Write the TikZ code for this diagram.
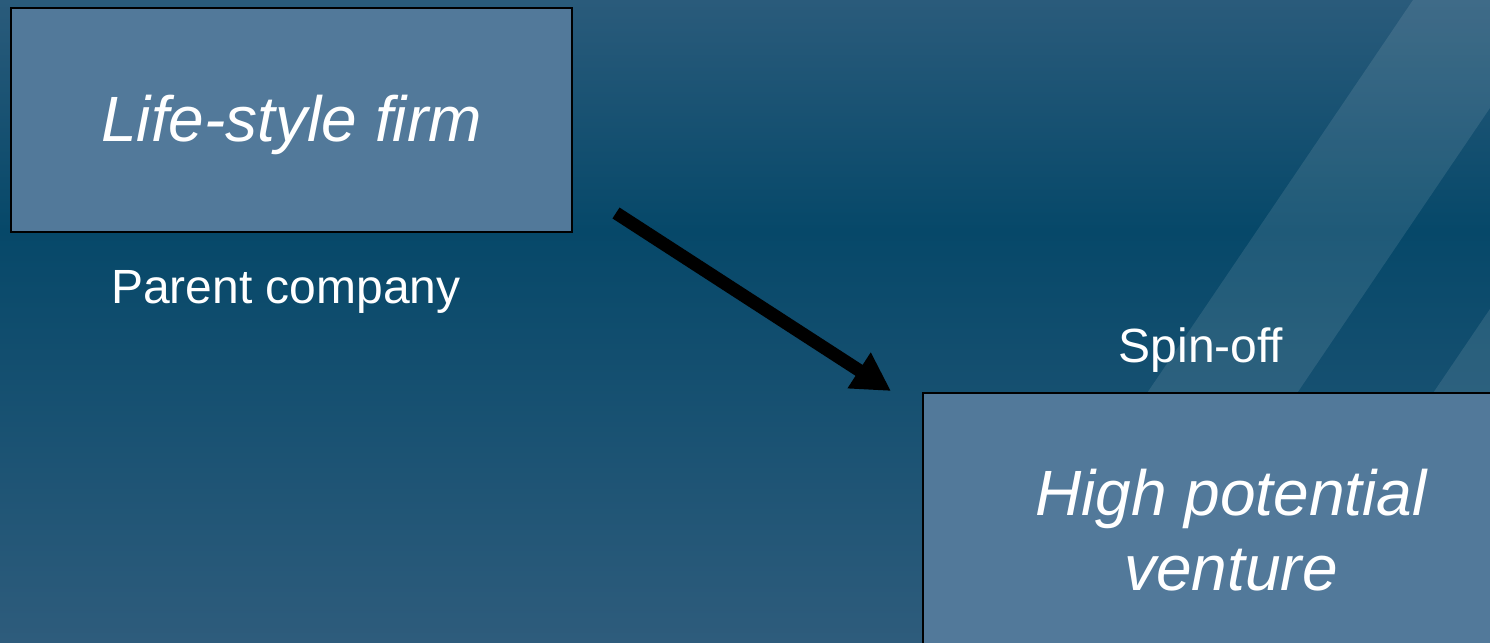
\documentclass[tikz,border=0pt]{standalone}
\usepackage{fontspec}
\setmainfont{Liberation Sans}
\usetikzlibrary{arrows.meta,calc}
\definecolor{bgtop}{HTML}{2A5B7B}
\definecolor{bgmid}{HTML}{064869}
\definecolor{bgbot}{HTML}{2E5C7C}
\definecolor{boxfill}{HTML}{52799A}
\begin{document}
\begin{tikzpicture}[x=0.5pt,y=-0.5pt,
  box/.style={draw=black,line width=1pt,fill=boxfill,inner sep=0pt,text=white,
    font=\fontsize{32}{37.5}\selectfont\itshape,align=center},
  lbl/.style={text=white,font=\fontsize{24}{28}\selectfont,inner sep=0pt},
  stripe/.style={fill=white,fill opacity=0.1},
  conn/.style={line width=6.5pt,-{Triangle[length=19pt,width=20pt]}}]
\useasboundingbox (0,0) rectangle (1490,643);
\clip (0,0) rectangle (1490,643);
\shade[top color=bgtop,bottom color=bgmid] (0,0) rectangle (1490,231);
\shade[top color=bgmid,bottom color=bgbot] (0,230) rectangle (1490,643);
\fill[stripe] (1413,0) -- (1563,0) -- (1128,643) -- (978,643) -- cycle;
\fill[stripe] (1699,0) -- (1849,0) -- (1414,643) -- (1264,643) -- cycle;
\node[box,minimum width=280.5pt,minimum height=112pt,text depth=2pt] (lsf) at (291.5,120) {Life-style firm};
\node[lbl] (pc) at (286,292) {Parent company};
\node[lbl] (so) at (1201,350) {Spin-off};
\node[box,minimum width=308pt,minimum height=137pt] (hpv) at (1231,530) {High potential\\venture};
\coordinate (as) at (616,213);
\coordinate (ae) at (891,391);
\draw[conn] (as) -- (ae);
\end{tikzpicture}
\end{document}
